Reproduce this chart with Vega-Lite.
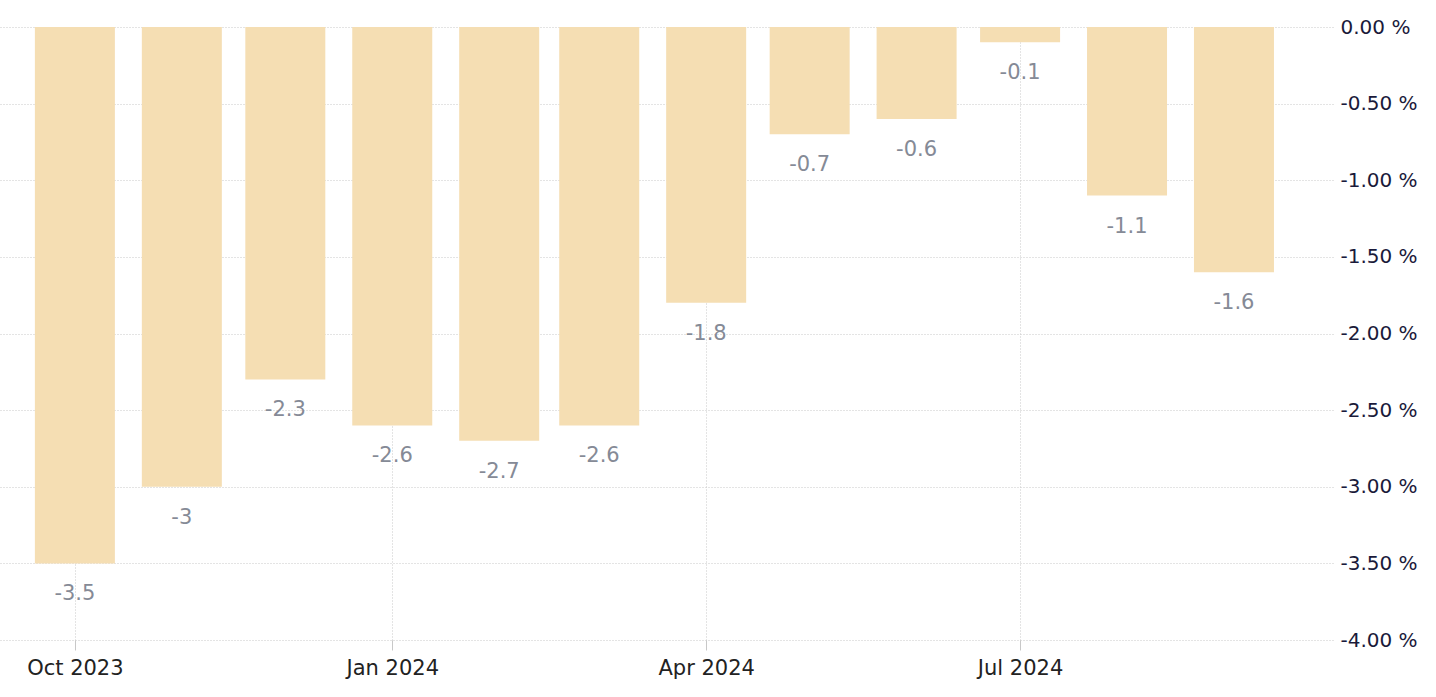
{
  "$schema": "https://vega.github.io/schema/vega-lite/v6.json",
  "autosize": {"type": "none"},
  "padding": {"left": 0, "top": 27, "right": 103, "bottom": 57},
  "width": 1333,
  "height": 613,
  "background": "white",
  "config": {
    "view": {"stroke": null},
    "font": "DejaVu Sans"
  },
  "data": {
    "values": [
      {"date": "2023-10-01", "value": -3.5, "label": "-3.5"},
      {"date": "2023-11-01", "value": -3.0, "label": "-3"},
      {"date": "2023-12-01", "value": -2.3, "label": "-2.3"},
      {"date": "2024-01-01", "value": -2.6, "label": "-2.6"},
      {"date": "2024-02-01", "value": -2.7, "label": "-2.7"},
      {"date": "2024-03-01", "value": -2.6, "label": "-2.6"},
      {"date": "2024-04-01", "value": -1.8, "label": "-1.8"},
      {"date": "2024-05-01", "value": -0.7, "label": "-0.7"},
      {"date": "2024-06-01", "value": -0.6, "label": "-0.6"},
      {"date": "2024-07-01", "value": -0.1, "label": "-0.1"},
      {"date": "2024-08-01", "value": -1.1, "label": "-1.1"},
      {"date": "2024-09-01", "value": -1.6, "label": "-1.6"}
    ]
  },
  "encoding": {
    "x": {
      "field": "date",
      "type": "temporal",
      "scale": {
        "type": "utc",
        "padding": 0,
        "domain": [
          {"year": 2023, "month": 9, "date": 9, "hours": 7, "utc": true},
          {"year": 2024, "month": 9, "date": 29, "hours": 17, "utc": true}
        ]
      },
      "axis": {
        "title": null,
        "values": [
          {"year": 2023, "month": 10, "date": 1, "utc": true},
          {"year": 2024, "month": 1, "date": 1, "utc": true},
          {"year": 2024, "month": 4, "date": 1, "utc": true},
          {"year": 2024, "month": 7, "date": 1, "utc": true}
        ],
        "labelExpr": "utcFormat(datum.value, '%b %Y')",
        "domain": false,
        "grid": true,
        "gridColor": "#c8c8c8",
        "gridDash": [1, 2],
        "gridWidth": 1,
        "ticks": true,
        "tickSize": 10,
        "tickColor": "#c8c8c8",
        "labelFontSize": 21,
        "labelColor": "#222222",
        "labelPadding": 7,
        "labelFlush": false
      }
    },
    "y": {
      "field": "value",
      "type": "quantitative",
      "scale": {"domain": [-4, 0], "nice": false, "zero": false},
      "axis": {
        "title": null,
        "orient": "right",
        "values": [0, -0.5, -1, -1.5, -2, -2.5, -3, -3.5, -4],
        "labelExpr": "replace(format(datum.value, '.2f'), '\u2212', '-') + ' %'",
        "domain": false,
        "ticks": false,
        "grid": true,
        "gridColor": "#c8c8c8",
        "gridDash": [1, 2],
        "gridWidth": 1,
        "labelFontSize": 20,
        "labelColor": "#1a1a3a",
        "labelPadding": 7
      }
    }
  },
  "layer": [
    {
      "mark": {"type": "bar", "width": 80, "color": "#F5DEB3"},
      "encoding": {
        "y2": {"datum": 0}
      }
    },
    {
      "mark": {"type": "text", "dy": 31, "fontSize": 21, "color": "#858a96"},
      "encoding": {
        "text": {"field": "label"}
      }
    }
  ]
}
